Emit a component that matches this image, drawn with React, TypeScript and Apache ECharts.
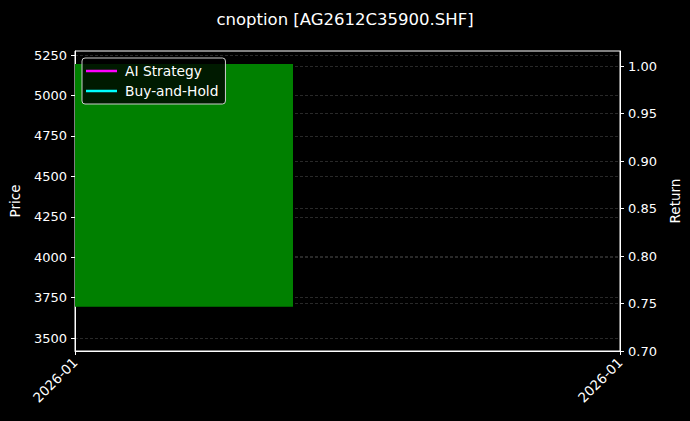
import { useEffect, useRef } from 'react';
import * as echarts from 'echarts';

const titleText = 'cnoption [AG2612C35900.SHF]';
const xLabel = '2026-01';
// candle: [xStart, xEnd, low, high]
const candle = [[0, 0.4, 3694, 5194]];
const priceTicks = [3500, 3750, 4000, 4250, 4500, 4750, 5000, 5250];
const returnTicks = [0.7, 0.75, 0.8, 0.85, 0.9, 0.95, 1.0];
const aiStrategy = [[0, 1.0]];
const buyHold = [[0, 1.0]];

const font = 'DejaVu Sans';

export default function App() {
  const chartRef = useRef<HTMLDivElement>(null);

  useEffect(() => {
    if (!chartRef.current) return;
    document.body.style.margin = '0';
    document.body.style.background = '#000';
    const chart = echarts.init(chartRef.current, undefined, { renderer: 'svg' });

    const gridLine = { show: true, lineStyle: { color: '#333', type: [3, 2] as number[], width: 0.8 } };

    chart.setOption({
      animation: false,
      backgroundColor: '#000',
      textStyle: { fontFamily: font },
      title: {
        text: titleText,
        left: 'center',
        top: 6,
        textStyle: { color: '#fff', fontSize: 16.5, fontWeight: 'normal', fontFamily: font },
      },
      legend: {
        left: 82,
        top: 58,
        orient: 'vertical',
        itemGap: 6,
        padding: [6, 7, 6, 4],
        backgroundColor: 'rgba(0,0,0,0.8)',
        borderColor: '#cccccc',
        borderWidth: 1,
        borderRadius: 3,
        icon: 'rect',
        itemWidth: 31,
        itemHeight: 2.5,
        textStyle: { color: '#fff', fontSize: 13.8, fontFamily: font, padding: [0, 0, 0, 3] },
        data: ['AI Strategy', 'Buy-and-Hold'],
      },
      grid: {
        left: 74,
        right: 70,
        top: 51,
        height: 300,
        show: true,
        borderColor: '#fff',
        borderWidth: 1,
        backgroundColor: '#000',
      },
      xAxis: {
        type: 'value',
        min: 0,
        max: 1,
        axisLine: { show: true, lineStyle: { color: '#fff' } },
        axisTick: { show: true, length: 4, lineStyle: { color: '#fff' }, customValues: [0, 1] },
        axisLabel: {
          color: '#fff',
          fontSize: 13.5,
          rotate: 45,
          margin: 9,
          customValues: [0, 1],
          formatter: () => xLabel,
        },
        splitLine: { show: false },
      },
      yAxis: [
        {
          type: 'value',
          min: 3420,
          max: 5275,
          name: 'Price',
          nameLocation: 'middle',
          nameGap: 53,
          nameTextStyle: { color: '#fff', fontSize: 13.5, fontFamily: font },
          axisLine: { show: true, lineStyle: { color: '#fff' } },
          axisTick: { show: true, length: 4, lineStyle: { color: '#fff' }, customValues: priceTicks },
          axisLabel: {
            color: '#fff',
            fontSize: 13,
            margin: 8,
            customValues: priceTicks,
            formatter: (v: number) => String(v),
          },
          splitLine: gridLine,
        },
        {
          type: 'value',
          min: 0.7,
          max: 1.0158,
          name: 'Return',
          nameLocation: 'middle',
          nameGap: 46,
          nameRotate: 90,
          nameTextStyle: { color: '#fff', fontSize: 13.5, fontFamily: font },
          axisLine: { show: true, lineStyle: { color: '#fff' } },
          axisTick: { show: true, length: 4, lineStyle: { color: '#fff' }, customValues: returnTicks },
          axisLabel: {
            color: '#fff',
            fontSize: 13,
            margin: 8,
            customValues: returnTicks,
            formatter: (v: number) => v.toFixed(2),
          },
          splitLine: gridLine,
        },
      ],
      series: [
        {
          type: 'custom',
          name: 'Price',
          silent: true,
          encode: { x: [0, 1], y: [2, 3] },
          data: candle,
          renderItem: (_params: any, api: any) => {
            const p0 = api.coord([api.value(0), api.value(3)]);
            const p1 = api.coord([api.value(1), api.value(2)]);
            return {
              type: 'rect',
              shape: { x: p0[0], y: p0[1], width: p1[0] - p0[0], height: p1[1] - p0[1] },
              style: { fill: '#008000' },
            };
          },
          z: 1,
        },
        {
          type: 'line',
          name: 'AI Strategy',
          yAxisIndex: 1,
          showSymbol: false,
          color: '#ff00ff',
          lineStyle: { width: 2 },
          data: aiStrategy,
          z: 3,
        },
        {
          type: 'line',
          name: 'Buy-and-Hold',
          yAxisIndex: 1,
          showSymbol: false,
          color: '#00ffff',
          lineStyle: { width: 2 },
          data: buyHold,
          z: 3,
        },
      ],
    });

    return () => {
      chart.dispose();
    };
  }, []);

  return <div ref={chartRef} style={{ width: 690, height: 421 }} />;
}
